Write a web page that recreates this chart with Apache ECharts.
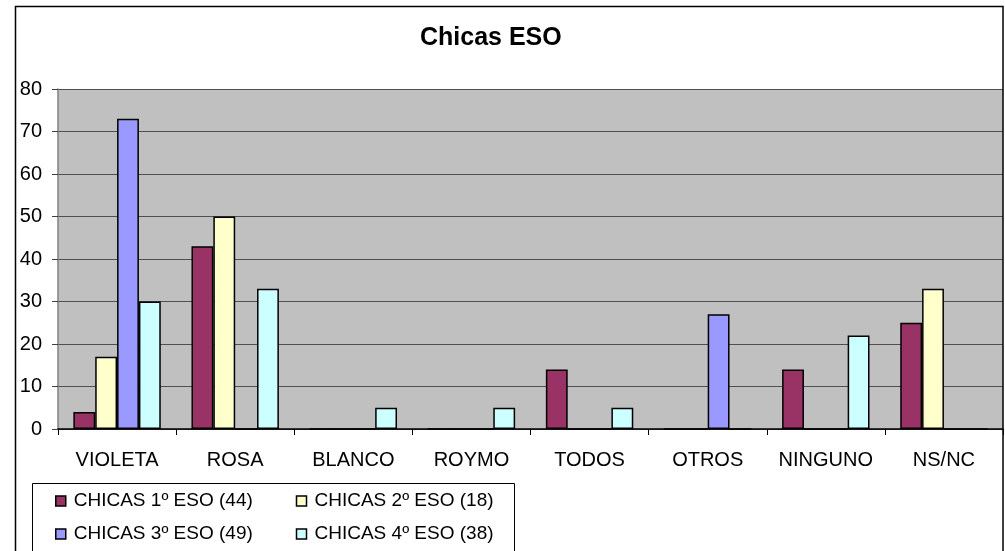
<!DOCTYPE html>
<html>
<head>
<meta charset="utf-8">
<script src="https://cdn.jsdelivr.net/npm/echarts@6/dist/echarts.min.js"></script>
<style>
  html, body { margin: 0; padding: 0; background: #fff; }
  #chart { width: 1005px; height: 551px; }
</style>
</head>
<body>
<div id="chart"></div>
<script>
// datos
var categorias = ["VIOLETA", "ROSA", "BLANCO", "ROYMO", "TODOS", "OTROS", "NINGUNO", "NS/NC"];
var nombres = ["CHICAS 1º ESO (44)", "CHICAS 2º ESO (18)", "CHICAS 3º ESO (49)", "CHICAS 4º ESO (38)"];
var eso1 = [4, 43, 0, 0, 14, 0, 14, 25];
var eso2 = [17, 50, 0, 0, 0, 0, 0, 33];
var eso3 = [73, 0, 0, 0, 0, 27, 0, 0];
var eso4 = [30, 33, 5, 5, 5, 0, 22, 0];
var colores = ["#993366", "#ffffcc", "#9999ff", "#ccffff"];

var fuente = "Liberation Sans, Arial, sans-serif";
var myChart = echarts.init(document.getElementById("chart"));

var series = [eso1, eso2, eso3, eso4].map(function (d, i) {
  return {
    name: nombres[i],
    type: "bar",
    data: d,
    barGap: "0%",
    barCategoryGap: "26%",
    itemStyle: { color: colores[i], borderColor: "#000", borderWidth: 1.5 },
    emphasis: { disabled: true }
  };
});

var option = {
  animation: false,
  color: colores,
  title: {
    text: "Chicas ESO",
    left: 420,
    top: 23,
    padding: 0,
    textStyle: { fontFamily: fuente, fontSize: 25, fontWeight: "bold", color: "#000", lineHeight: 30 }
  },
  legend: {
    left: 55,
    top: 491,
    width: 480,
    padding: 0,
    itemGap: 13,
    itemWidth: 10,
    itemHeight: 10,
    icon: "rect",
    itemStyle: { borderColor: "#000", borderWidth: 1.5 },
    textStyle: {
      fontFamily: fuente, fontSize: 19, color: "#000",
      width: 209, lineHeight: 20, padding: [0, 0, 0, 3]
    },
    data: nombres
  },
  grid: {
    left: 58,
    right: 2,
    top: 89,
    bottom: 122,
    show: true,
    backgroundColor: "#c0c0c0",
    borderWidth: 0
  },
  xAxis: {
    type: "category",
    data: categorias,
    axisLine: { lineStyle: { color: "#000", width: 1.5 } },
    axisTick: { show: true, interval: 0, length: 6, lineStyle: { color: "#000" } },
    axisLabel: { interval: 0, fontFamily: fuente, fontSize: 20, color: "#000", margin: 21 }
  },
  yAxis: {
    type: "value",
    min: 0,
    max: 80,
    interval: 10,
    axisLine: { show: true, lineStyle: { color: "#808080", width: 1.5 } },
    axisTick: { show: true, length: 6, lineStyle: { color: "#404040" } },
    axisLabel: { fontFamily: fuente, fontSize: 20, color: "#000", margin: 16 },
    splitLine: { lineStyle: { color: "#505050", width: 1.2 } }
  },
  graphic: [
    {
      type: "rect",
      silent: true,
      z: 100,
      shape: { x: 15.5, y: 6.5, width: 987.5, height: 600 },
      style: { fill: "none", stroke: "#000", lineWidth: 1.5 }
    },
    {
      type: "rect",
      silent: true,
      z: 100,
      shape: { x: 32.5, y: 483.5, width: 482, height: 100 },
      style: { fill: "none", stroke: "#000", lineWidth: 1 }
    }
  ],
  series: series
};

myChart.setOption(option);
</script>
</body>
</html>
